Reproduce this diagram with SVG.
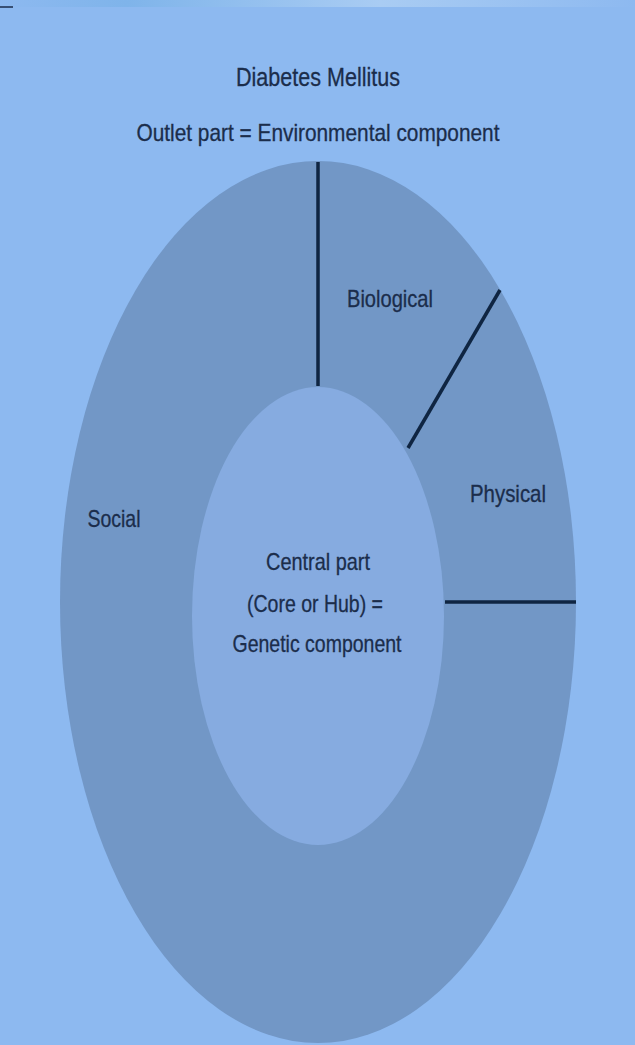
<svg xmlns="http://www.w3.org/2000/svg" width="635" height="1045" viewBox="0 0 635 1045">
<style>
.t{font-family:"Liberation Sans",Arial,sans-serif;fill:#1b2d4b;text-anchor:middle;stroke:#1b2d4b;stroke-width:0.3}
.c{stroke:#0f2542;stroke-width:3.5;fill:none;stroke-linecap:butt}
</style>
<defs>
<linearGradient id="topband" x1="0" y1="0" x2="1" y2="0">
<stop offset="0" stop-color="#8db9f0"/>
<stop offset="0.2" stop-color="#7fb4ea"/>
<stop offset="0.6" stop-color="#a9ccf3"/>
<stop offset="1" stop-color="#8db9f0"/>
</linearGradient>
</defs>
<rect x="0" y="0" width="635" height="1045" fill="#8db9f0"/>
<rect x="0" y="0" width="635" height="7" fill="url(#topband)"/>
<line x1="0" y1="7" x2="13" y2="7" stroke="#1b2d4b" stroke-width="1.5"/>
<g id="title">
<text class="t" x="318" y="86" font-size="25" textLength="164" lengthAdjust="spacingAndGlyphs">Diabetes Mellitus</text>
<text class="t" x="318" y="141" font-size="24" textLength="363" lengthAdjust="spacingAndGlyphs">Outlet part  = Environmental component</text>
</g>
<g id="outer-ring">
<ellipse cx="318" cy="602" rx="258" ry="441" fill="#7297c6"/>
</g>
<g id="core">
<ellipse cx="318" cy="616" rx="126" ry="229" fill="#86abe0"/>
<text class="t" x="318" y="570" font-size="24" textLength="104" lengthAdjust="spacingAndGlyphs">Central part</text>
<text class="t" x="315" y="612" font-size="24" textLength="136" lengthAdjust="spacingAndGlyphs">(Core or Hub) =</text>
<text class="t" x="317" y="652" font-size="24" textLength="169" lengthAdjust="spacingAndGlyphs">Genetic component</text>
</g>
<g id="connectors">
<line class="c" x1="318" y1="162" x2="318" y2="386"/>
<line class="c" x1="500" y1="290" x2="408" y2="448"/>
<line class="c" x1="445" y1="602" x2="576" y2="602"/>
</g>
<g id="biological"><text class="t" x="390" y="307" font-size="24" textLength="86" lengthAdjust="spacingAndGlyphs">Biological</text></g>
<g id="physical"><text class="t" x="508" y="502" font-size="24" textLength="76" lengthAdjust="spacingAndGlyphs">Physical</text></g>
<g id="social"><text class="t" x="114" y="527" font-size="24" textLength="53" lengthAdjust="spacingAndGlyphs">Social</text></g>
</svg>
